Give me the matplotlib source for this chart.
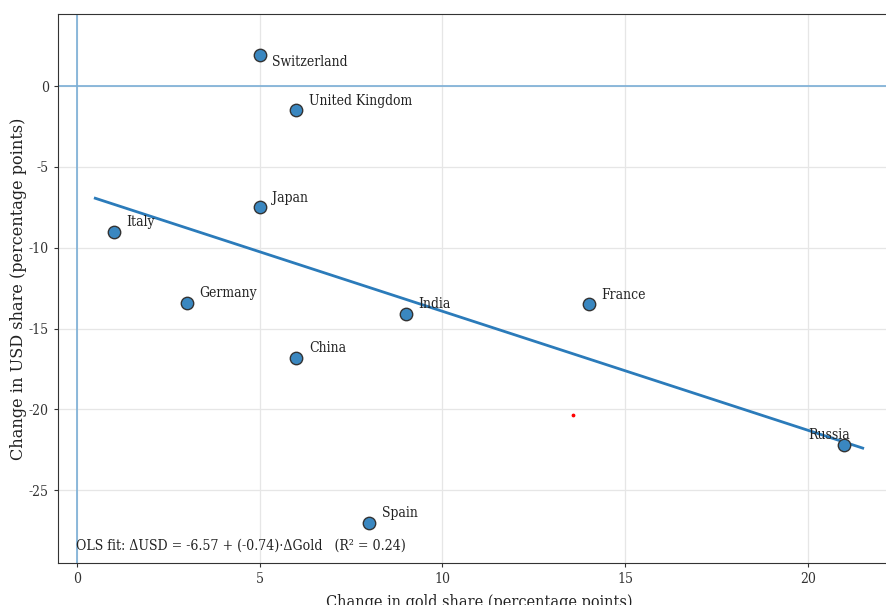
import matplotlib

matplotlib.use("Agg")
import matplotlib.pyplot as plt
import numpy as np

# Data
countries = [
    "Switzerland",
    "United Kingdom",
    "Japan",
    "Italy",
    "Germany",
    "India",
    "France",
    "China",
    "Spain",
    "Russia",
]
gold_change = [5, 6, 5, 1, 3, 9, 14, 6, 8, 21]
usd_change = [1.9, -1.5, -7.5, -9.0, -13.4, -14.1, -13.5, -16.8, -27.0, -22.2]
stray_point = (13.57, -20.36)

# label offsets in points (x, y, ha)
label_offsets = {
    "Switzerland": (9, -5, "left"),
    "Russia": (4, 7, "right"),
}

plt.rcParams["font.family"] = "DejaVu Serif"
plt.rcParams["font.stretch"] = "condensed"
plt.rcParams["axes.unicode_minus"] = False

fig = plt.figure(figsize=(8.86, 6.05), dpi=100)
ax = fig.add_axes([58 / 886, 1 - 563 / 605, (900 - 58) / 886, (563 - 14) / 605])

x = np.array(gold_change, dtype=float)
y = np.array(usd_change, dtype=float)

ax.axhline(0, color="#7aaed6", lw=1.2, zorder=1)
ax.axvline(0, color="#7aaed6", lw=1.2, zorder=1)

ax.scatter(x, y, s=80, color="#3a87c0", edgecolors="#333333", linewidths=1.0, zorder=4)
ax.scatter([stray_point[0]], [stray_point[1]], s=3, color="red", zorder=4)

for name, xi, yi in zip(countries, x, y):
    dx, dy, ha = label_offsets.get(name, (9, 7, "left"))
    ax.annotate(
        name,
        (xi, yi),
        xytext=(dx, dy),
        textcoords="offset points",
        ha=ha,
        va="center",
        fontsize=10,
        color="#222222",
        zorder=5,
    )

# OLS fit
slope, intercept = np.polyfit(x, y, 1)
r2 = np.corrcoef(x, y)[0, 1] ** 2
xx = np.linspace(x.min() - 0.5, x.max() + 0.5, 50)
ax.plot(xx, intercept + slope * xx, color="#2b7bba", lw=2, zorder=3)

ax.text(
    0.021,
    0.018,
    f"OLS fit: ΔUSD = {intercept:.2f} + ({slope:.2f})·ΔGold   (R² = {r2:.2f})",
    transform=ax.transAxes,
    ha="left",
    va="bottom",
    fontsize=10.1,
    color="#222222",
)

ax.set_xlim(-0.52, 22.52)
ax.set_ylim(-29.5, 4.46)
ax.set_xticks([0, 5, 10, 15, 20])
ax.set_yticks([0, -5, -10, -15, -20, -25])
ax.grid(True, color="#e6e6e6", lw=0.9, zorder=0)
ax.set_axisbelow(True)
ax.tick_params(labelsize=10, colors="#333333", length=3)
for s in ax.spines.values():
    s.set_color("#333333")

ax.set_xlabel("Change in gold share (percentage points)", fontsize=11.6, color="#222222", labelpad=6)
ax.set_ylabel(
    "Change in USD share (percentage points)",
    fontsize=11.6,
    fontstretch="normal",
    color="#222222",
    labelpad=1,
)

fig.savefig("out.png", dpi=100)
